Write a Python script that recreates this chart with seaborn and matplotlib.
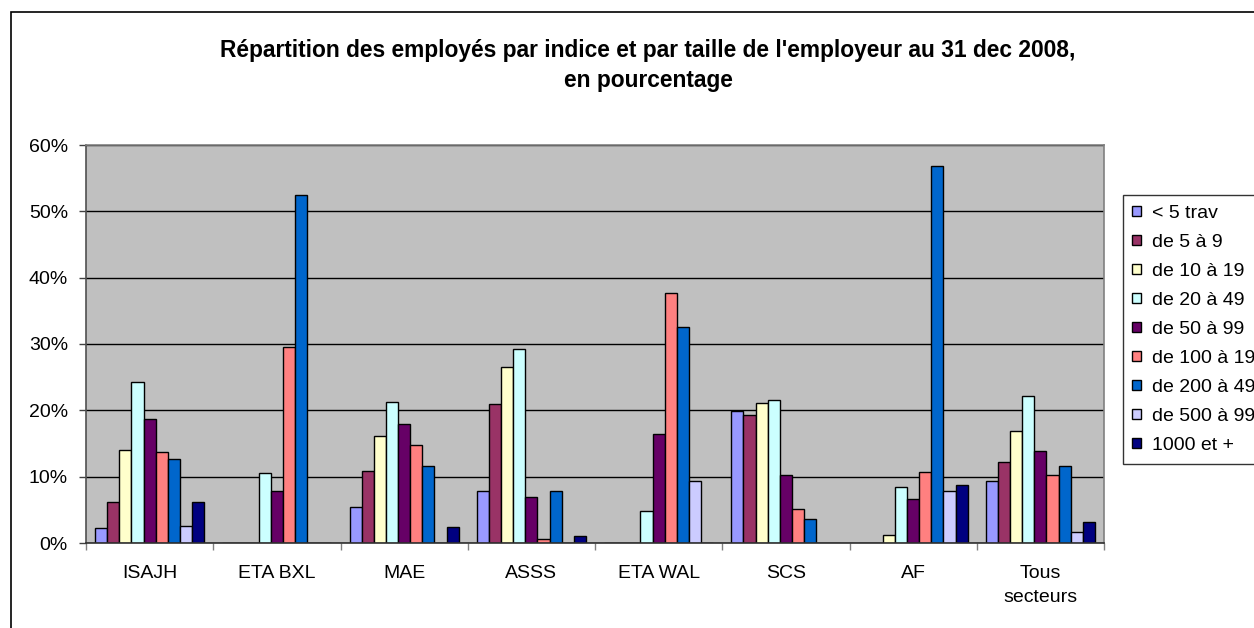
import matplotlib
matplotlib.use("Agg")
import matplotlib.pyplot as plt
from matplotlib.patches import Patch, Rectangle
from matplotlib.ticker import FuncFormatter, FixedLocator
import seaborn as sns
import pandas as pd

plt.rcParams['font.family'] = ['Liberation Sans', 'DejaVu Sans']

# Sectors (x categories)
secteurs = ["ISAJH", "ETA BXL", "MAE", "ASSS", "ETA WAL", "SCS", "AF", "Tous\nsecteurs"]

# Employer size classes (hue)
tailles = ["< 5 trav", "de 5 à 9", "de 10 à 19", "de 20 à 49", "de 50 à 99",
           "de 100 à 199", "de 200 à 499", "de 500 à 999", "1000 et +"]

# Share of employees (%) per size class, one value per sector
moins_5 = [2.2, 0.0, 5.5, 7.9, 0.0, 19.9, 0.0, 9.3]
de_5_9 = [6.2, 0.0, 10.9, 20.9, 0.0, 19.3, 0.0, 12.2]
de_10_19 = [14.0, 0.0, 16.1, 26.6, 0.0, 21.1, 1.2, 16.9]
de_20_49 = [24.2, 10.5, 21.3, 29.2, 4.8, 21.6, 8.5, 22.1]
de_50_99 = [18.7, 7.9, 18.0, 6.9, 16.4, 10.2, 6.7, 13.8]
de_100_199 = [13.7, 29.6, 14.7, 0.6, 37.7, 5.2, 10.7, 10.2]
de_200_499 = [12.6, 52.4, 11.6, 7.9, 32.5, 3.6, 56.9, 11.6]
de_500_999 = [2.6, 0.0, 0.0, 0.0, 9.3, 0.0, 7.9, 1.6]
plus_1000 = [6.2, 0.0, 2.4, 1.0, 0.0, 0.0, 8.8, 3.1]

series = [moins_5, de_5_9, de_10_19, de_20_49, de_50_99,
          de_100_199, de_200_499, de_500_999, plus_1000]

couleurs = ["#9999FF", "#993366", "#FFFFCC", "#CCFFFF", "#660066",
            "#FF8080", "#0066CC", "#CCCCFF", "#000080"]

rows = []
for taille, vals in zip(tailles, series):
    for sect, v in zip(secteurs, vals):
        rows.append({"secteur": sect, "taille": taille, "part": v})
df = pd.DataFrame(rows)

W, H = 1254, 628
fig = plt.figure(figsize=(W / 100, H / 100), dpi=100)
fig.patch.set_facecolor("white")

# Chart frame (runs past the right and bottom edges)
fig.patches.append(Rectangle((11 / W, -0.2), 1.3, 1 - 12 / H + 0.2,
                             transform=fig.transFigure, fill=False,
                             edgecolor="black", linewidth=1.2, zorder=0))

left, right, top, bottom = 86, 1104, 145, 543
ax = fig.add_axes([left / W, 1 - bottom / H, (right - left) / W, (bottom - top) / H])
ax.set_facecolor("#C0C0C0")

sns.barplot(data=df, x="secteur", y="part", hue="taille",
            order=secteurs, hue_order=tailles, palette=couleurs,
            width=0.857, saturation=1, errorbar=None,
            edgecolor="black", linewidth=1.0, legend=False, ax=ax)

ax.set_xlim(-0.5, len(secteurs) - 0.5)
ax.set_ylim(0, 60)
ax.set_yticks(range(0, 61, 10))
ax.yaxis.set_major_formatter(FuncFormatter(lambda v, _: f"{v:.0f}%"))
ax.yaxis.grid(True, color="black", linewidth=1.0)
ax.set_axisbelow(True)
ax.set_xlabel("")
ax.set_ylabel("")

ax.tick_params(axis="y", direction="out", length=5, width=1, color="#404040",
               pad=8, labelsize=14)
ax.tick_params(axis="x", which="major", length=0, pad=16, labelsize=14)
ax.xaxis.set_minor_locator(FixedLocator([i - 0.5 for i in range(len(secteurs) + 1)]))
ax.tick_params(axis="x", which="minor", direction="out", length=5, width=1, color="#808080")
for lab in ax.get_xticklabels():
    lab.set_linespacing(1.55)

for side in ("top", "right"):
    ax.spines[side].set_color("#808080")
    ax.spines[side].set_linewidth(1.2)
ax.spines["left"].set_color("#505050")
ax.spines["left"].set_linewidth(1.2)
ax.spines["bottom"].set_color("#303030")
ax.spines["bottom"].set_linewidth(1.2)

# Title
fig.text(648 / W, 1 - 50 / H,
         "Répartition des employés par indice et par taille de l'employeur au 31 dec 2008,",
         ha="center", va="center", fontsize=16.4, fontweight="bold")
fig.text(648 / W, 1 - 80 / H, "en pourcentage",
         ha="center", va="center", fontsize=16.4, fontweight="bold")

# Legend
handles = [Patch(facecolor=c, edgecolor="black", linewidth=1.0) for c in couleurs]
leg = fig.legend(handles, tailles, loc="upper left",
                 bbox_to_anchor=(1122.5 / W, 1 - 195 / H),
                 frameon=True, fancybox=False, edgecolor="black",
                 fontsize=14, handlelength=0.45, handleheight=0.45,
                 handletextpad=0.55, labelspacing=0.62, borderpad=0.5,
                 borderaxespad=0)
leg.get_frame().set_linewidth(1.0)

fig.savefig("out.png", dpi=100)
